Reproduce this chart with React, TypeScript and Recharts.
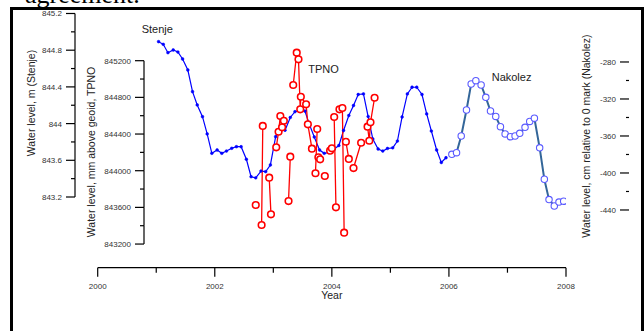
import { ComposedChart, Line, XAxis, YAxis } from "recharts"

const W = 644
const H = 331
const PLOT_LEFT = 97.7
const PLOT_RIGHT = 566
const PLOT_TOP = 10
const PLOT_BOTTOM = 267.7
const PLOT_H = PLOT_BOTTOM - PLOT_TOP
const Y_W = 1
const FONT = "'Liberation Sans', Arial, sans-serif"

const years = [2000, 2001, 2002, 2003, 2004, 2005, 2006, 2007, 2008]

// Stenje, monthly means (m)
const stenjeT = [
  2001.04, 2001.12, 2001.2, 2001.29, 2001.37, 2001.45, 2001.54, 2001.62, 2001.7, 2001.79, 2001.87, 2001.95,
  2002.04, 2002.12, 2002.2, 2002.29, 2002.37, 2002.45, 2002.54, 2002.62, 2002.7, 2002.79, 2002.87, 2002.95,
  2003.04, 2003.12, 2003.2, 2003.29, 2003.37, 2003.45, 2003.54, 2003.62, 2003.7, 2003.79, 2003.87, 2003.95,
  2004.04, 2004.12, 2004.2, 2004.29, 2004.37, 2004.45, 2004.54, 2004.62, 2004.7, 2004.79, 2004.87, 2004.95,
  2005.04, 2005.12, 2005.2, 2005.29, 2005.37, 2005.45, 2005.54, 2005.62, 2005.7, 2005.79, 2005.87, 2005.95,
]
const stenjeLevel = [
  844.893, 844.864, 844.773, 844.802, 844.78, 844.704, 844.584, 844.348, 844.203, 844.075, 843.887, 843.676,
  843.712, 843.676, 843.701, 843.731, 843.748, 843.748, 843.611, 843.421, 843.409, 843.483, 843.476, 843.549,
  843.857, 843.958, 843.927, 844.067, 844.13, 844.141, 844.137, 843.985, 843.854, 843.712, 843.676, 843.685,
  843.723, 843.761, 843.925, 844.088, 844.197, 844.317, 844.323, 844.077, 843.832, 843.723, 843.701, 843.729,
  843.736, 843.81, 844.072, 844.323, 844.396, 844.396, 844.317, 844.105, 843.919, 843.712, 843.576, 843.628,
]

// TPNO gauge (mm above geoid); tpnoRun groups the connected readings
const tpnoT = [
  2002.7, 2002.8, 2002.82, 2002.93, 2002.96, 2003.05, 2003.09, 2003.12, 2003.15, 2003.18,
  2003.26, 2003.29, 2003.34, 2003.4, 2003.43, 2003.46, 2003.47, 2003.56, 2003.59, 2003.66,
  2003.72, 2003.75, 2003.77, 2003.8, 2003.88, 2003.97, 2004.0, 2004.04, 2004.07, 2004.13,
  2004.18, 2004.21, 2004.24, 2004.29, 2004.37, 2004.5, 2004.61, 2004.64, 2004.66, 2004.73,
]
const tpnoLevel = [
  843626, 843408, 844488, 843924, 843524, 844255, 844425, 844597, 844473, 844545,
  843669, 844153, 844935, 845287, 845215, 844670, 844807, 844724, 844506, 844240,
  843972, 844455, 844146, 844124, 843942, 844218, 844244, 844586, 843601, 844670,
  844684, 843324, 844316, 844128, 844029, 844305, 844480, 844327, 844528, 844796,
]
const tpnoRun = [
  0, 1, 1, 2, 2, 3, 3, 3, 3, 3,
  4, 4, 5, 5, 5, 5, 5, 5, 5, 5,
  6, 6, 7, 7, 8, 9, 9, 10, 10, 11,
  11, 11, 12, 12, 13, 13, 14, 14, 14, 14,
]

// Nakolez, monthly (cm relative to 0 mark)
const nakolezT = [
  2006.05, 2006.13, 2006.21, 2006.3, 2006.38, 2006.46, 2006.55, 2006.63, 2006.71, 2006.8, 2006.88, 2006.96,
  2007.05, 2007.13, 2007.21, 2007.3, 2007.38, 2007.46, 2007.55, 2007.63, 2007.71, 2007.8, 2007.88, 2007.96,
]
const nakolezLevel = [
  -379.8, -378.1, -360.0, -331.9, -303.8, -300.2, -304.9, -318.2, -333.0, -338.9, -349.9, -357.8,
  -360.8, -360.0, -357.1, -350.6, -344.3, -340.8, -372.8, -406.8, -428.8, -435.7, -431.4, -430.5,
]

const stenjeTicks = [845.2, 845, 844.8, 844.6, 844.4, 844.2, 844, 843.8, 843.6, 843.4, 843.2]
const tpnoTicks = [845200, 845000, 844800, 844600, 844400, 844200, 844000, 843800, 843600, 843400, 843200]
const nakolezTicks = [-280, -300, -320, -340, -360, -380, -400, -420, -440]

const stenjeDomain = [842.4294, 845.2381]
const tpnoDomain = [842942, 845753]
const nakolezDomain = [-502.4, -223.8]

const stenjeData = stenjeT.map((t, i) => ({ t, v: stenjeLevel[i] }))
const nakolezData = nakolezT.map((t, i) => ({ t, v: nakolezLevel[i] }))
const tpnoData: { t: number; v: number | null }[] = []
tpnoT.forEach((t, i) => {
  if (i > 0 && tpnoRun[i] !== tpnoRun[i - 1]) tpnoData.push({ t: tpnoT[i - 1], v: null })
  tpnoData.push({ t, v: tpnoLevel[i] })
})

function makeYTick(opts: {
  axisX: number
  isMajor: (v: number) => boolean
  stepPx: number
  lowest: number
  minorLen: number
  drawLine: boolean
}) {
  return (props: any) => {
    const { y, payload } = props
    const v = payload.value
    const major = opts.isMajor(v)
    const len = major ? 9 : opts.minorLen
    return (
      <g>
        <line x1={opts.axisX - len} x2={opts.axisX} y1={y} y2={y} stroke="#000" strokeWidth={1.2} />
        {opts.drawLine && v !== opts.lowest && (
          <line x1={opts.axisX} x2={opts.axisX} y1={y} y2={y + opts.stepPx} stroke="#000" strokeWidth={1.2} />
        )}
        {major && (
          <text x={opts.axisX - 13} y={y + 3} textAnchor="end" fontSize={8} fill="#333" fontFamily={FONT}>
            {String(v)}
          </text>
        )}
      </g>
    )
  }
}

const StenjeTick = makeYTick({
  axisX: 75,
  isMajor: (v) => Math.round(v * 10) % 4 === 0,
  stepPx: (PLOT_H * 0.2) / (stenjeDomain[1] - stenjeDomain[0]),
  lowest: 843.2,
  minorLen: 4,
  drawLine: true,
})
const TpnoTick = makeYTick({
  axisX: 144,
  isMajor: (v) => Math.round(v) % 400 === 0,
  stepPx: (PLOT_H * 200) / (tpnoDomain[1] - tpnoDomain[0]),
  lowest: 843200,
  minorLen: 4,
  drawLine: true,
})
const NakolezTick = makeYTick({
  axisX: 629,
  isMajor: (v) => Math.round(v) % 40 === 0,
  stepPx: 0,
  lowest: -440,
  minorLen: 3,
  drawLine: false,
})

function XTick(props: any) {
  const { x, payload } = props
  const major = payload.value % 2 === 0
  return (
    <g>
      <line x1={x} x2={x} y1={PLOT_BOTTOM} y2={PLOT_BOTTOM + (major ? 9 : 5)} stroke="#000" strokeWidth={1.2} />
      {major && (
        <text x={x} y={PLOT_BOTTOM + 21.5} textAnchor="middle" fontSize={8} fill="#333" fontFamily={FONT}>
          {payload.value}
        </text>
      )}
    </g>
  )
}

export default function App() {
  return (
    <div style={{ position: "absolute", left: 0, top: 0, width: W, height: H, overflow: "hidden", background: "#fff" }}>
      <div
        style={{
          position: "absolute",
          left: 25,
          top: -18.3,
          fontFamily: "'Liberation Serif', 'Times New Roman', serif",
          fontSize: 26,
          lineHeight: "26px",
          color: "#000",
          whiteSpace: "nowrap",
        }}
      >
        agreement.
      </div>
      <div
        style={{
          position: "absolute",
          left: 10,
          top: 7,
          width: 634,
          height: 400,
          boxSizing: "border-box",
          border: "3px solid #000",
        }}
      />
      <div style={{ position: "absolute", left: 0, top: 0 }}>
        <ComposedChart
          width={W}
          height={H}
          margin={{ top: PLOT_TOP, right: W - PLOT_RIGHT - Y_W, bottom: H - PLOT_BOTTOM - 30, left: PLOT_LEFT - 2 * Y_W }}
        >
          <XAxis
            dataKey="t"
            type="number"
            domain={[2000, 2008]}
            ticks={years}
            interval={0}
            allowDataOverflow
            height={30}
            axisLine={{ stroke: "#000", strokeWidth: 1.2 }}
            tickLine={false}
            tick={XTick}
          />
          <YAxis
            yAxisId="stenje"
            orientation="left"
            width={Y_W}
            type="number"
            domain={stenjeDomain}
            ticks={stenjeTicks}
            interval={0}
            allowDataOverflow
            axisLine={false}
            tickLine={false}
            tick={StenjeTick}
          />
          <YAxis
            yAxisId="tpno"
            orientation="left"
            width={Y_W}
            type="number"
            domain={tpnoDomain}
            ticks={tpnoTicks}
            interval={0}
            allowDataOverflow
            axisLine={false}
            tickLine={false}
            tick={TpnoTick}
          />
          <YAxis
            yAxisId="nakolez"
            orientation="right"
            width={Y_W}
            type="number"
            domain={nakolezDomain}
            ticks={nakolezTicks}
            interval={0}
            allowDataOverflow
            axisLine={false}
            tickLine={false}
            tick={NakolezTick}
          />
          <Line
            data={stenjeData}
            dataKey="v"
            yAxisId="stenje"
            type="linear"
            stroke="#0000ff"
            strokeWidth={1.2}
            dot={{ r: 1.4, fill: "#0000ff", stroke: "#0000ff", strokeWidth: 0.5 }}
            isAnimationActive={false}
          />
          <Line
            data={tpnoData}
            dataKey="v"
            yAxisId="tpno"
            type="linear"
            stroke="#ff0000"
            strokeWidth={1.3}
            connectNulls={false}
            dot={{ r: 3.3, fill: "#fff", stroke: "#ff0000", strokeWidth: 1.6 }}
            isAnimationActive={false}
          />
          <Line
            data={nakolezData}
            dataKey="v"
            yAxisId="nakolez"
            type="linear"
            stroke="#336699"
            strokeWidth={2}
            dot={{ r: 3.2, fill: "#fff", stroke: "#5a5aff", strokeWidth: 1.1 }}
            isAnimationActive={false}
          />
        </ComposedChart>
      </div>
      <svg
        width={W}
        height={H}
        style={{ position: "absolute", left: 0, top: 0, pointerEvents: "none" }}
        fontFamily={FONT}
      >
        <text x={31} y={103} transform="rotate(-90 31 103)" textAnchor="middle" dominantBaseline="central" fontSize={10.5} fill="#222">
          Water level, m (Stenje)
        </text>
        <text x={90.5} y={152} transform="rotate(-90 90.5 152)" textAnchor="middle" dominantBaseline="central" fontSize={10.5} fill="#222">
          Water level, mm above geoid, TPNO
        </text>
        <text x={585.7} y={136} transform="rotate(-90 585.7 136)" textAnchor="middle" dominantBaseline="central" fontSize={10.5} fill="#222">
          Water level, cm relative to 0 mark (Nakolez)
        </text>
        <text x={141.7} y={32.5} fontSize={11} fill="#222">Stenje</text>
        <text x={308.3} y={73.3} fontSize={11} fill="#222">TPNO</text>
        <text x={491.7} y={80.7} fontSize={11} fill="#222">Nakolez</text>
        <text x={331.8} y={299.3} textAnchor="middle" fontSize={10.5} fill="#222">Year</text>
      </svg>
    </div>
  )
}
